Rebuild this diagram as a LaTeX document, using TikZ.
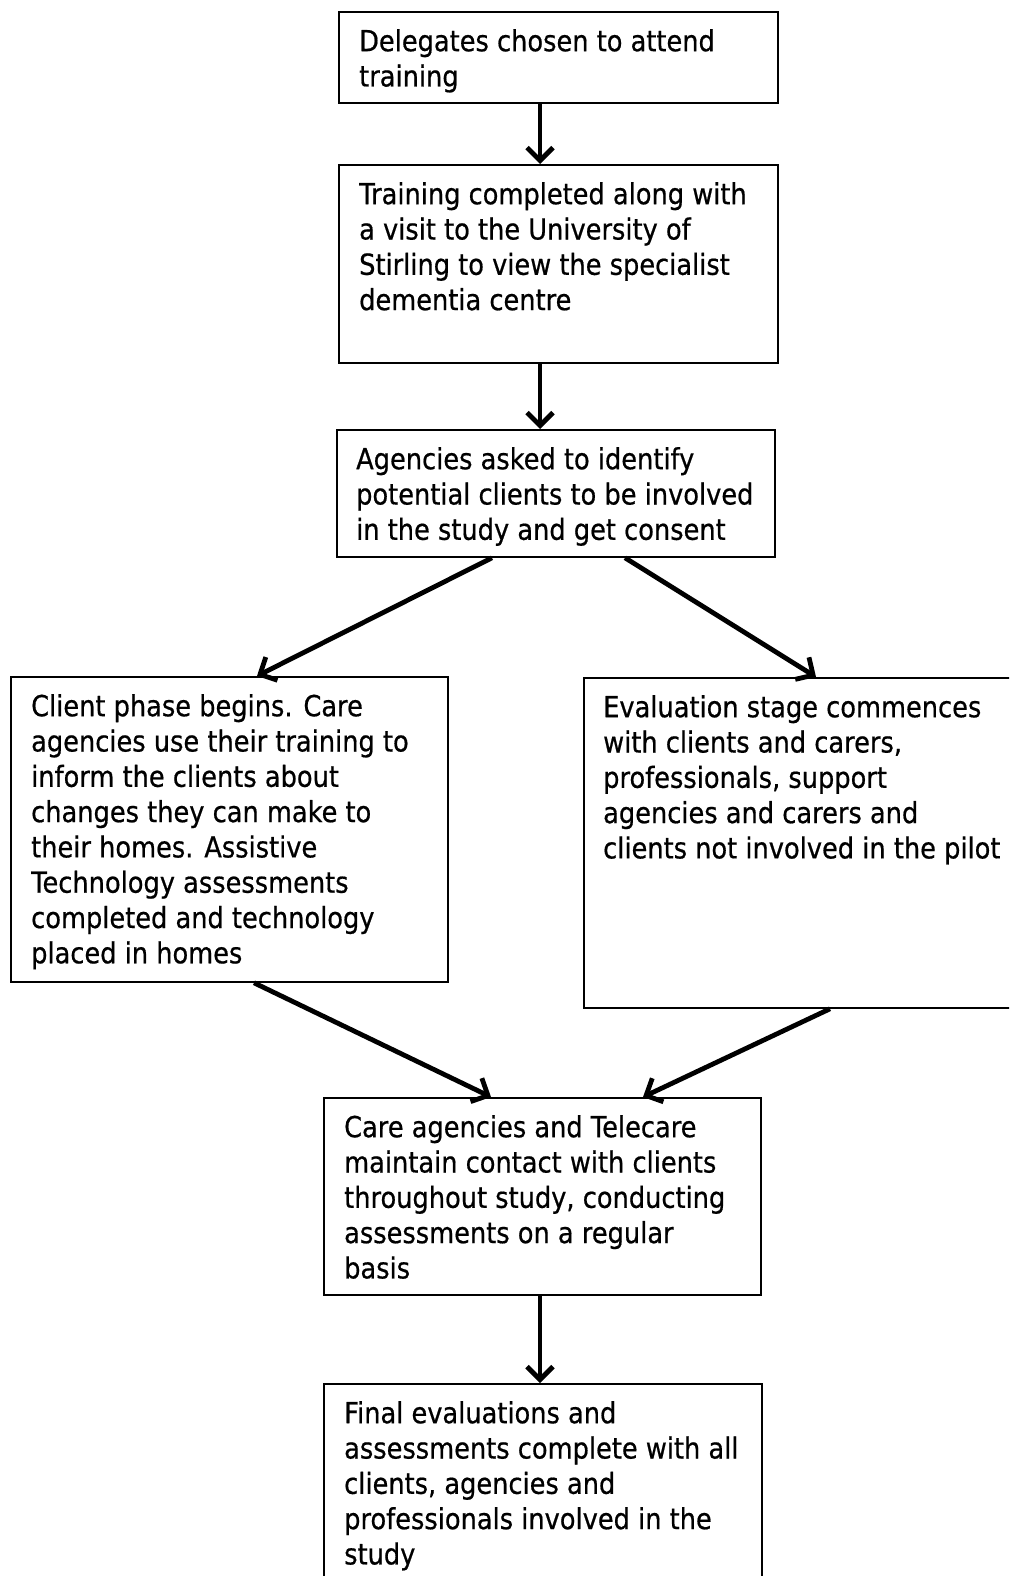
\documentclass[tikz,border=0pt]{standalone}
\usepackage{fontspec}
\setmainfont{DejaVu Sans}[FakeStretch=0.885,FakeBold=0.6]
\usetikzlibrary{arrows.meta}
\begin{document}
\begin{tikzpicture}[x=1pt,y=-1pt,
  box/.style={draw, line width=1.8pt, inner sep=0pt, anchor=north west},
  txt/.style={anchor=north west, inner sep=0pt, align=left, font=\fontsize{29}{35.3}\selectfont},
  arr/.style={line width=4.8pt, -{Straight Barb[length=13pt,width=26pt]}}]
\useasboundingbox (0,0) rectangle (1009,1576);
\fill[white] (0,0) rectangle (1009,1576);
\clip (0,0) rectangle (1009,1576);
\newcommand{\fl}{\rule{0pt}{24pt}}
% boxes
\node[box, minimum width=439pt, minimum height=91pt] (b1) at (338,11) {};
\node[box, minimum width=439pt, minimum height=198pt] (b2) at (338,164) {};
\node[box, minimum width=438pt, minimum height=127pt] (b3) at (336,429) {};
\node[box, minimum width=437pt, minimum height=305pt] (b4) at (10,676) {};
\node[box, minimum width=440pt, minimum height=330pt] (b5) at (583,677) {};
\node[box, minimum width=437pt, minimum height=197pt] (b6) at (323,1097) {};
\node[box, minimum width=438pt, minimum height=220pt] (b7) at (323,1383) {};
% texts
\node[txt] (t1) at ([shift={(21pt,-16pt)}]b1.north west) {\fl Delegates chosen to attend\\training};
\node[txt] (t2) at ([shift={(21pt,-16pt)}]b2.north west) {\fl Training completed along with\\a visit to the University of\\Stirling to view the specialist\\dementia centre};
\node[txt] (t3) at ([shift={(20pt,-16pt)}]b3.north west) {\fl Agencies asked to identify\\potential clients to be involved\\in the study and get consent};
\node[txt] (t4) at ([shift={(21pt,-16pt)}]b4.north west) {\fl Client phase begins. Care\\agencies use their training to\\inform the clients about\\changes they can make to\\their homes. Assistive\\Technology assessments\\completed and technology\\placed in homes};
\node[txt] (t5) at ([shift={(20pt,-16pt)}]b5.north west) {\fl Evaluation stage commences\\with clients and carers,\\professionals, support\\agencies and carers and\\clients not involved in the pilot};
\node[txt] (t6) at ([shift={(21pt,-16pt)}]b6.north west) {\fl Care agencies and Telecare\\maintain contact with clients\\throughout study, conducting\\assessments on a regular\\basis};
\node[txt] (t7) at ([shift={(21pt,-16pt)}]b7.north west) {\fl Final evaluations and\\assessments complete with all\\clients, agencies and\\professionals involved in the\\study};
% arrows
\draw[arr] ([xshift=202pt]b1.south west) -- ([xshift=202pt]b2.north west);
\draw[arr] ([xshift=202pt]b2.south west) -- ([xshift=204pt]b3.north west);
\draw[arr] ([xshift=156pt]b3.south west) -- ([xshift=247pt]b4.north west);
\draw[arr] ([xshift=289pt]b3.south west) -- ([xshift=233pt]b5.north west);
\draw[arr] ([xshift=244pt]b4.south west) -- ([xshift=168pt]b6.north west);
\draw[arr] ([xshift=247pt]b5.south west) -- ([xshift=320pt]b6.north west);
\draw[arr] ([xshift=217pt]b6.south west) -- ([xshift=217pt]b7.north west);
\end{tikzpicture}
\end{document}
